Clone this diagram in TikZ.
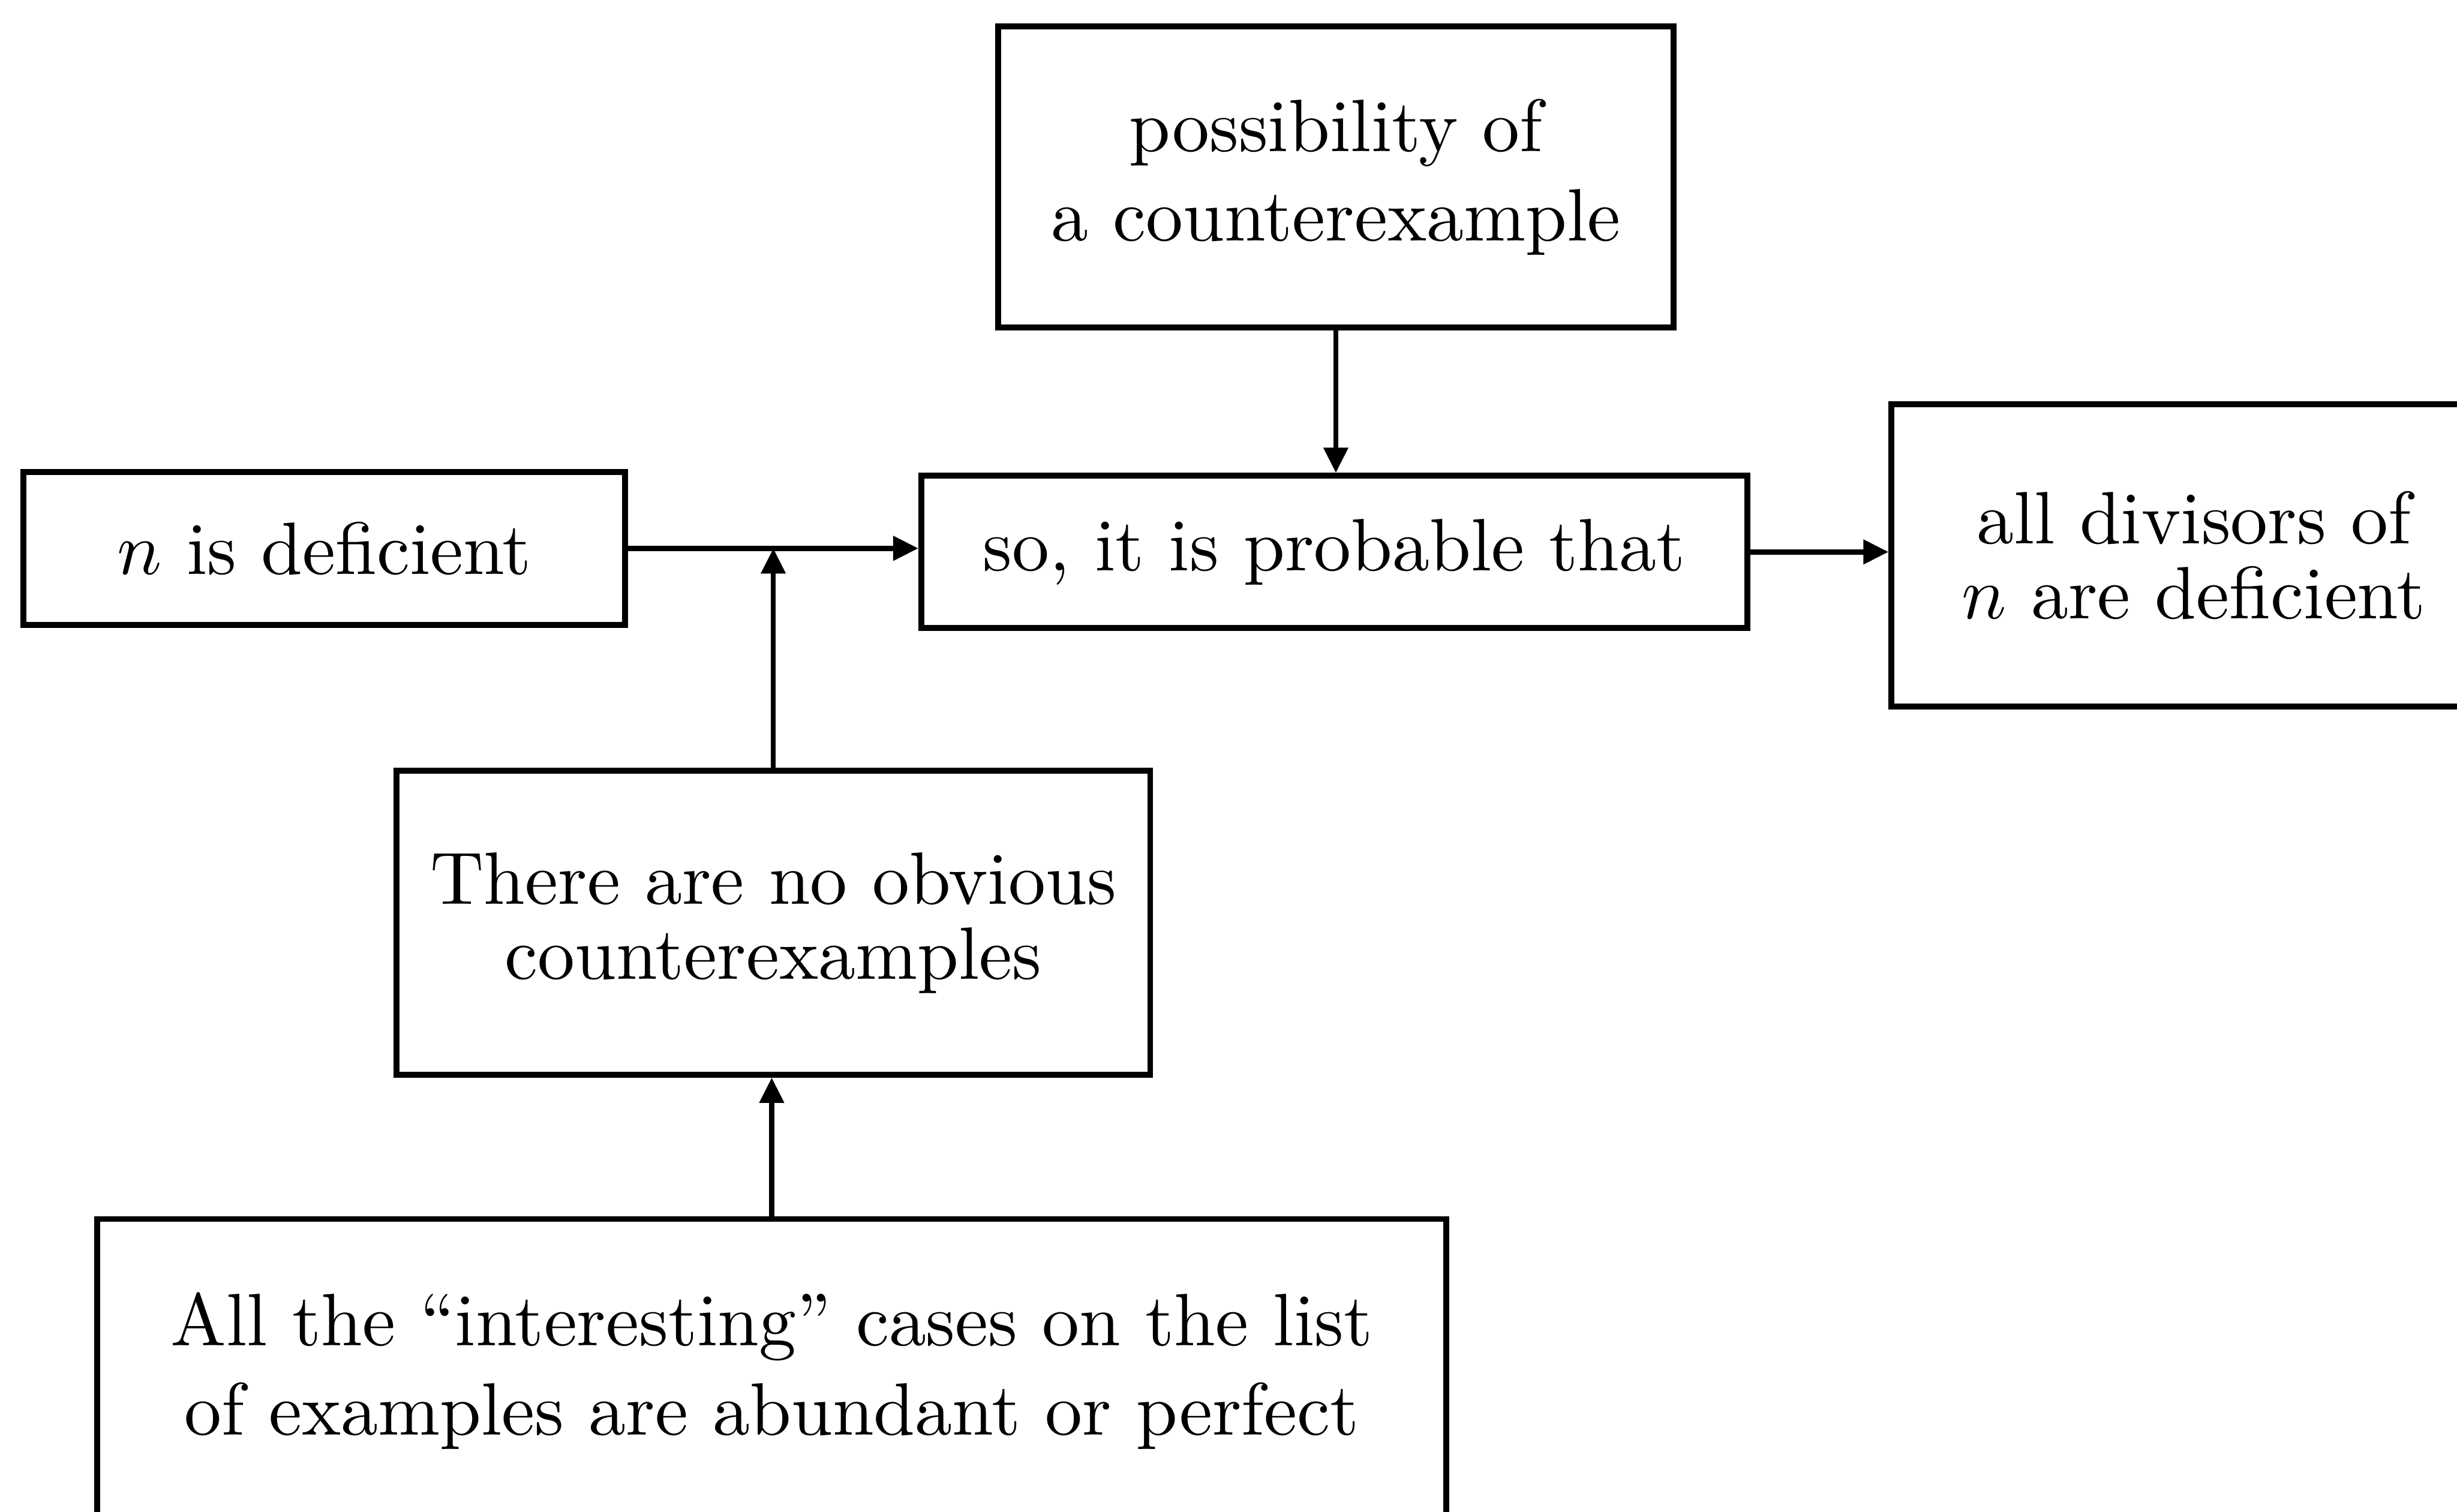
\documentclass[tikz,border=0pt]{standalone}
\usetikzlibrary{arrows.meta}
\begin{document}
\begin{tikzpicture}[x=0.211pt,y=-0.211pt,
  box/.style={draw, line width=0.8pt, inner sep=0pt, align=center},
  link/.style={line width=0.7pt, -{Triangle[length=3.4pt,width=3.2pt]}}]
  \useasboundingbox (0,0) rectangle (1568,965);
  \clip (0,0) rectangle (1568,965);

  % statements
  \node[box, minimum width=90.9pt, minimum height=40.5pt] (top) at (852.5,113)
    {possibility of\\a counterexample};
  \node[box, minimum width=81.0pt, minimum height=20.6pt] (ndef) at (207,350)
    {$n$ is deficient};
  \node[box, minimum width=111.2pt, minimum height=20.5pt] (so) at (851.5,352.3)
    {so, it is probable that};
  \node[box, minimum width=81.4pt, minimum height=40.7pt] (div) at (1400,354.5)
    {all divisors of\\[-1.9pt]$n$ are deficient};
  \node[box, minimum width=101.5pt, minimum height=40.9pt] (there) at (493.5,589)
    {There are no obvious\\[-1.9pt]counterexamples};
  \node[box, minimum width=181.7pt, minimum height=40.9pt] (bottom) at (492.5,875)
    {All the ``interesting'' cases on the list\\of examples are abundant or perfect};

  % inferences
  \draw[link] (top.south) -- (top.south |- so.north);
  \draw[link] (ndef.east) -- (ndef.east -| so.west);
  \coordinate (join) at (there.north |- ndef.east);
  \draw[link] (there.north) -- (join);
  \draw[link] (so.east) -- (so.east -| div.west);
  \draw[link] (bottom.north) -- (bottom.north |- there.south);
\end{tikzpicture}
\end{document}
